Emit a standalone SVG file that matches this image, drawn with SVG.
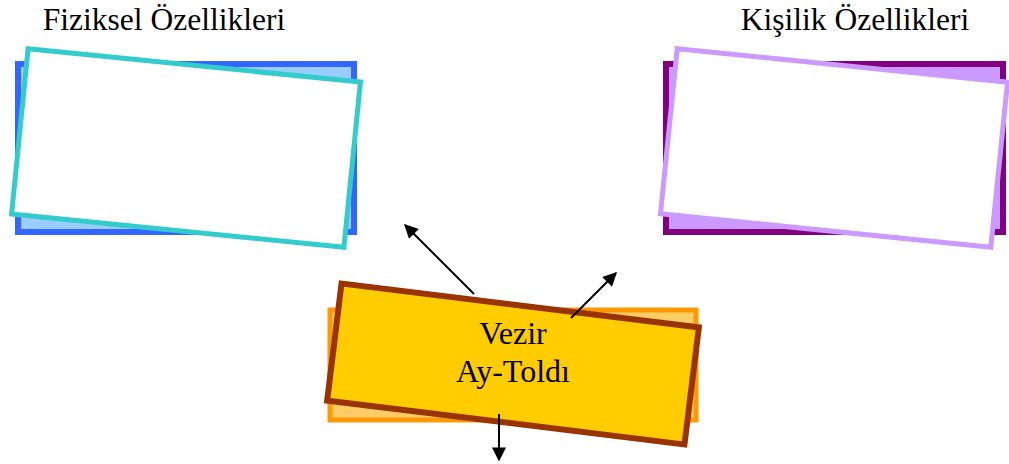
<svg xmlns="http://www.w3.org/2000/svg" width="1009" height="464" viewBox="0 0 1009 464">
  <style>
    .lbl { font-family: "Liberation Serif", "Times New Roman", serif; font-size: 31.5px; fill: #000; text-anchor: middle; }
    .conn { stroke: #000; stroke-width: 2; fill: none; marker-end: url(#head); }
  </style>
  <defs>
    <marker id="head" viewBox="0 0 10 10" refX="9" refY="5" markerWidth="8" markerHeight="7" markerUnits="strokeWidth" orient="auto">
      <path d="M0,0 L10,5 L0,10 z" fill="#000"/>
    </marker>
  </defs>
  <rect width="1009" height="464" fill="#fff"/>

  <!-- Physical traits -->
  <g id="fiziksel">
    <rect x="18" y="64" width="336" height="168" fill="#99CCFF" stroke="#3366FF" stroke-width="6"/>
    <rect x="-167" y="-83" width="334" height="166" fill="#fff" stroke="#33CCCC" stroke-width="5" transform="translate(186 148) rotate(5.7)"/>
    <text class="lbl" x="164" y="30">Fiziksel Özellikleri</text>
  </g>

  <!-- Personality traits -->
  <g id="kisilik">
    <rect x="666" y="64" width="337" height="168" fill="#CC99FF" stroke="#800080" stroke-width="6"/>
    <rect x="-166" y="-83" width="332" height="166" fill="#fff" stroke="#CC99FF" stroke-width="5" transform="translate(834 148) rotate(5.8)"/>
    <text class="lbl" x="855" y="30">Kişilik Özellikleri</text>
  </g>

  <!-- Central character -->
  <g id="vezir">
    <rect x="330" y="310" width="366" height="110" fill="#FFCC66" stroke="#FF9900" stroke-width="5"/>
    <rect x="-180" y="-59" width="360" height="118" fill="#FFCC00" stroke="#993300" stroke-width="6" transform="translate(513 364) rotate(7)"/>
    <text class="lbl" x="513" y="344" style="font-size:32px">Vezir</text>
    <text class="lbl" x="513" y="382" style="font-size:32px">Ay-Toldı</text>
  </g>

  <g id="connectors">
    <line class="conn" x1="474" y1="294" x2="405" y2="225"/>
    <line class="conn" x1="571" y1="318" x2="616" y2="273"/>
    <line class="conn" x1="499" y1="414" x2="499" y2="460"/>
  </g>
</svg>
